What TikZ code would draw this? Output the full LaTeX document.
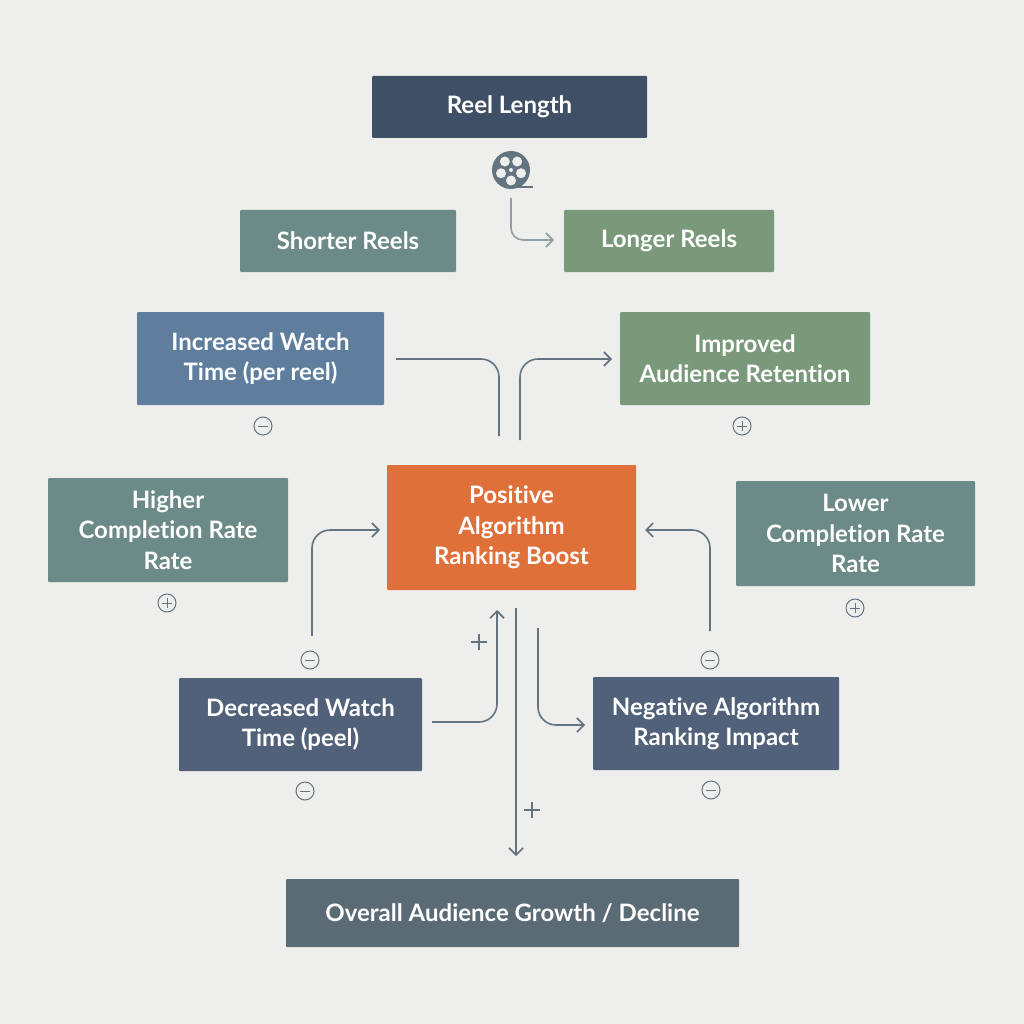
\documentclass[tikz,border=0pt]{standalone}
\usepackage{fontspec}
\setmainfont{Lato}[RawFeature={-liga}]
\usetikzlibrary{arrows.meta}
\definecolor{bg}{HTML}{EEEEED}
\definecolor{navy}{HTML}{3F4F66}
\definecolor{teal}{HTML}{6C8A87}
\definecolor{sage}{HTML}{7A997A}
\definecolor{steel}{HTML}{5F7E9E}
\definecolor{orng}{HTML}{E0703A}
\definecolor{slate}{HTML}{506179}
\definecolor{dslate}{HTML}{5A6B76}
\definecolor{ln}{HTML}{63737F}
\begin{document}
\begin{tikzpicture}[x=1pt,y=-1pt,
  box/.style={fill=#1,text=white,font=\fontsize{24}{30.5}\selectfont\bfseries,align=center,inner sep=0pt,rounded corners=1pt},
  conn/.style={draw=ln,line width=1.6pt,rounded corners=18pt},
  arr/.style={conn,-{Straight Barb[length=7pt,width=14pt,line width=1.6pt]}},
  sgn/.style={draw=ln,line width=1pt,circle,minimum size=18pt,inner sep=0pt}]
\fill[bg] (0,0) rectangle (1024,1024);
\useasboundingbox (0,0) rectangle (1024,1024);
\newcommand\bx[6]{\node[box=#5,minimum width=#3-#1,minimum height=#4-#2] (#6) at ({(#1+#3)/2},{(#2+#4)/2})}
\bx{372}{76}{647}{138}{navy}{reel} {Reel Length};
\bx{240}{210}{456}{272}{teal}{short} {Shorter Reels};
\bx{564}{210}{774}{272}{sage}{long} {Longer Reels};
\bx{137}{312}{384}{405}{steel}{inc} {Increased Watch\\Time (per reel)};
\bx{620}{312}{870}{405}{sage}{imp} {Improved\\Audience Retention};
\bx{387}{465}{636}{590}{orng}{pos} {Positive\\Algorithm\\Ranking Boost};
\bx{48}{478}{288}{582}{teal}{high} {Higher\\Completion Rate\\Rate};
\bx{736}{481}{975}{586}{teal}{low} {Lower\\Completion Rate\\Rate};
\bx{179}{678}{422}{771}{slate}{dec} {Decreased Watch\\Time (peel)};
\bx{593}{677}{839}{770}{slate}{neg} {Negative Algorithm\\Ranking Impact};
\bx{286}{879}{739}{947}{dslate}{all} {Overall Audience Growth / Decline};
% film reel icon
\node (icon) at (511,170) {};
\fill[ln] (511,170) circle (19);
\draw[ln,line width=2.5pt] (511,187) -- (533,187);
\foreach \a in {90,162,234,306,18} \fill[bg] (511,170) ++(\a:10.5) circle (5);
\fill[bg] (511,170) circle (2);
% coordinates
\coordinate (i0) at (511,198); \coordinate (i1) at (554,240);
\coordinate (a0) at (396,359); \coordinate (a1) at (499,436);
\coordinate (b0) at (520,440); \coordinate (b1) at (612,359);
\coordinate (c0) at (312,636); \coordinate (c1) at (380,530);
\coordinate (d0) at (710,631); \coordinate (d1) at (645,530);
\coordinate (e0) at (432,722); \coordinate (e1) at (497,610);
\coordinate (f0) at (516,608); \coordinate (f1) at (516,856);
\coordinate (g0) at (538,628); \coordinate (g1) at (585,725);
\draw[arr,draw=ln!70,rounded corners=12pt] (i0) |- (i1);
\draw[conn] (a0) -| (a1);
\draw[arr] (b0) |- (b1);
\draw[arr] (c0) |- (c1);
\draw[arr] (d0) |- (d1);
\draw[arr] (e0) -| (e1);
\draw[arr] (f0) -- (f1);
\draw[arr] (g0) |- (g1);
% signs
\foreach \p/\n/\t in {{(263,426)}/s1/m,{(742,426)}/s2/p,{(167,603)}/s3/p,{(855,608)}/s4/p,{(310,660)}/s5/m,{(710,660)}/s6/m,{(305,791)}/s7/m,{(711,790)}/s8/m}{
  \node[sgn] (\n) at \p {};
  \draw[ln,line width=1pt] ([xshift=-5pt]\n.center) -- ([xshift=5pt]\n.center);
  \if\t p \draw[ln,line width=1pt] ([yshift=-5pt]\n.center) -- ([yshift=5pt]\n.center);\fi
}
\node (pl1) at (479,642) {};
\draw[ln,line width=1.1pt] (471,642) -- (487,642) (479,634) -- (479,650);
\node (pl2) at (532,810) {};
\draw[ln,line width=1.1pt] (524,810) -- (540,810) (532,802) -- (532,818);
\end{tikzpicture}
\end{document}
